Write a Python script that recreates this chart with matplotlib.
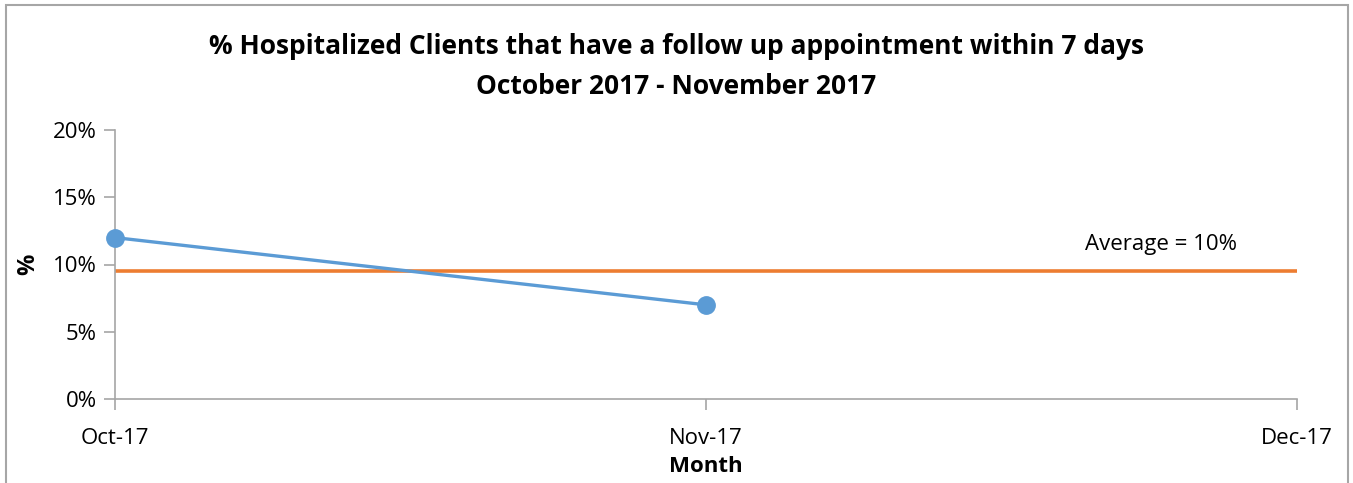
import matplotlib
matplotlib.use("Agg")
import matplotlib.pyplot as plt
from matplotlib.patches import Rectangle
from matplotlib.ticker import FuncFormatter

months = ["Oct-17", "Nov-17", "Dec-17"]
pct_values = [12, 7]
average_value = 9.5
average_label = "Average = 10%"
title_lines = ["% Hospitalized Clients that have a follow up appointment within 7 days",
               "October 2017 - November 2017"]
yticks = [0, 5, 10, 15, 20]

plt.rcParams['font.family'] = ['Open Sans', 'DejaVu Sans']

W, H = 1353, 483
fig = plt.figure(figsize=(W / 100, H / 100), dpi=100)
fig.patches.append(Rectangle((6/W, -0.05), (1348-6)/W, 1.05 - 5/H,
                             transform=fig.transFigure, fill=False,
                             edgecolor='#A6A6A6', linewidth=1.5))
ax = fig.add_axes([115/W, 1 - 399/H, (1297-115)/W, (399-130)/H])

x = list(range(len(months)))
ax.plot([x[0], x[-1]], [average_value, average_value], color='#ED7D31', lw=2.6,
        solid_capstyle='round', zorder=2)
ax.plot(x[:len(pct_values)], pct_values, color='#5B9BD5', lw=2.4, marker='o',
        markersize=12.5, zorder=3, clip_on=False)

ax.set_xlim(0, 2)
ax.set_ylim(0, 20)
ax.set_xticks(x)
ax.set_xticklabels(months)
ax.set_yticks(yticks)
ax.yaxis.set_major_formatter(FuncFormatter(lambda v, p: f"{v:.0f}%"))

for s in ['top', 'right']:
    ax.spines[s].set_visible(False)
for s in ['left', 'bottom']:
    ax.spines[s].set_color('#A6A6A6')
    ax.spines[s].set_linewidth(1.2)
ax.tick_params(axis='both', colors='#A6A6A6', length=8, width=1.2,
               labelcolor='black', labelsize=16)
ax.tick_params(axis='x', pad=13)
ax.tick_params(axis='y', pad=5)

ax.set_xlabel("Month", fontsize=16, fontweight='bold', labelpad=5)
ax.set_ylabel("%", fontsize=17, fontweight='bold', labelpad=9)

ax.text(1.77, 11.45, average_label, fontsize=16, ha='center', va='center')

fig.text(0.5, 1 - 47/H, title_lines[0], ha='center', va='center',
         fontsize=19, fontweight='bold')
fig.text(0.5, 1 - 87/H, title_lines[1], ha='center', va='center',
         fontsize=19, fontweight='bold')

fig.savefig("out.png", dpi=100)
